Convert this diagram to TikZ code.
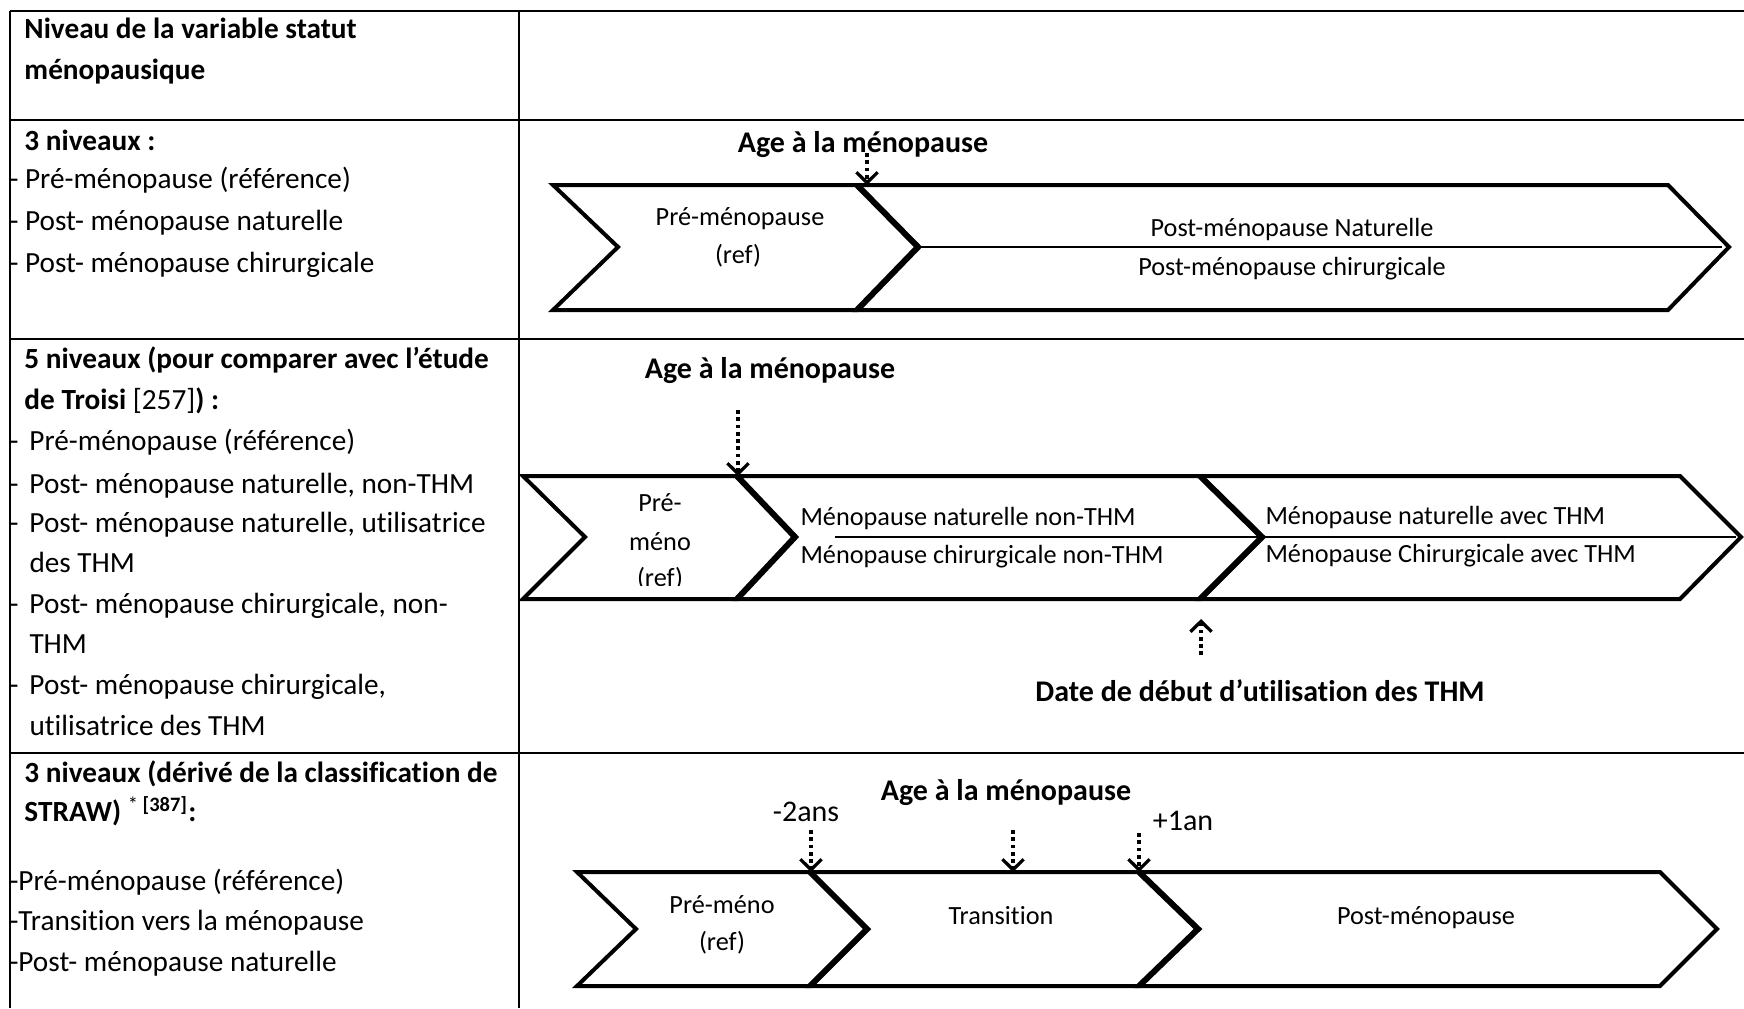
\documentclass[tikz,border=0pt]{standalone}
\usepackage{fontspec}
\setmainfont{Carlito}[Ligatures=NoCommon]
\usetikzlibrary{arrows.meta}

\begin{document}
\begin{tikzpicture}[x=0.4pt,y=-0.4pt,
  rule/.style={line width=0.7pt},
  txt/.style={anchor=mid west,inner sep=0pt,yshift=-1.2pt,font=\fontsize{11.7}{14}\selectfont},
  txtb/.style={txt,font=\fontsize{11.7}{14}\selectfont\bfseries},
  lbl/.style={anchor=mid,inner sep=0pt,yshift=-1pt,font=\fontsize{10.5}{12}\selectfont},
  lbll/.style={lbl,anchor=mid west},
  hdr/.style={anchor=mid,inner sep=0pt,yshift=-1.4pt,font=\fontsize{12}{14}\selectfont\bfseries},
  note/.style={anchor=mid,inner sep=0pt,yshift=-1.4pt,font=\fontsize{12}{14}\selectfont},
  chev/.style={draw,fill=white,line width=1.6pt,line join=miter},
  seam/.style={line width=2.4pt,line join=miter},
  midline/.style={line width=0.6pt},
  dotarrow/.style={line width=1.5pt,dash pattern=on 1.5pt off 1.4pt,
    -{Straight Barb[length=4.2pt,width=8.5pt,line width=1.3pt]}}]
  \useasboundingbox (0,0) rectangle (1744,1008);
  \begin{scope}
    % table
    \draw[rule] (10,11) -- (1744,11);
    \draw[rule] (10,120) -- (1744,120);
    \draw[rule] (10,339) -- (1744,339);
    \draw[rule] (10,753) -- (1744,753);
    \draw[rule] (10,11) -- (10,1008);
    \draw[rule] (519,11) -- (519,1008);

    \node[txtb] (r1a) at (24,30) {Niveau de la variable statut};
    \node[txtb] (r1b) at (24,71) {ménopausique};

    \node[txtb] (r2a) at (24,142) {3 niveaux :};
    \node[txt] (r2b) at (9,180) {- Pré-ménopause (référence)};
    \node[txt] (r2c) at (9,222) {- Post- ménopause naturelle};
    \node[txt] (r2d) at (9,264) {- Post- ménopause chirurgicale};

    \node[txtb] (r3a) at (24,360) {5 niveaux (pour comparer avec l’étude};
    \node[txtb] (r3b) at (24,401) {de Troisi \textmd{[257]}) :};
    \node[txt] (r3c) at (9,442) {-\hspace{4.4pt}Pré-ménopause (référence)};
    \node[txt] (r3d) at (9,485) {-\hspace{4.4pt}Post- ménopause naturelle, non-THM};
    \node[txt] (r3e) at (9,524) {-\hspace{4.4pt}Post- ménopause naturelle, utilisatrice};
    \node[txt] (r3f) at (29,564) {des THM};
    \node[txt] (r3g) at (9,605) {-\hspace{4.4pt}Post- ménopause chirurgicale, non-};
    \node[txt] (r3h) at (29,645) {THM};
    \node[txt] (r3i) at (9,686) {-\hspace{4.4pt}Post- ménopause chirurgicale,};
    \node[txt] (r3j) at (29,727) {utilisatrice des THM};

    \node[txtb] (r4a) at (24,774) {3 niveaux (dérivé de la classification de};
    \node[txtb] (r4b) at (24,813) {STRAW) \textsuperscript{\textmd{*} [387]}:};
    \node[txt] (r4c) at (9,882) {-Pré-ménopause (référence)};
    \node[txt] (r4d) at (9,922) {-Transition vers la ménopause};
    \node[txt] (r4e) at (9,963) {-Post- ménopause naturelle};

    % 3 niveaux
    \draw[chev] (553,185) -- (857,185) -- (918,247) -- (857,310) -- (553,310) -- (618,247) -- cycle;
    \draw[chev] (857,185) -- (1668,185) -- (1729,247) -- (1668,310) -- (857,310) -- (918,247) -- cycle;
    \draw[seam] (857,185) -- (918,247) -- (857,310);
    \draw[midline] (918,247) -- (1722,247);
    \coordinate (j2) at (857,185);
    \coordinate (a2) at (867,153);
    \node[hdr] (h2) at (863,143) {Age à la ménopause};
    \node[lbl] (p2a) at (740,217) {Pré-ménopause};
    \node[lbl] (p2b) at (738,255) {(ref)};
    \node[lbl] (q2a) at (1292,228) {Post-ménopause Naturelle};
    \node[lbl] (q2b) at (1292,267) {Post-ménopause chirurgicale};
    \draw[dotarrow] (a2) -- (a2 |- j2);

    % 5 niveaux
    \draw[chev] (523,476) -- (737,476) -- (795,537) -- (737,599) -- (523,599) -- (585,537) -- cycle;
    \draw[chev] (737,476) -- (1200,476) -- (1262,537) -- (1200,599) -- (737,599) -- (795,537) -- cycle;
    \draw[chev] (1200,476) -- (1680,476) -- (1741,537) -- (1680,599) -- (1200,599) -- (1262,537) -- cycle;
    \draw[seam] (737,476) -- (795,537) -- (737,599);
    \draw[seam] (1200,476) -- (1262,537) -- (1200,599);
    \draw[midline] (835,537) -- (1262,537);
    \draw[midline] (1262,537) -- (1736,537);
    \coordinate (j3a) at (737,476);
    \coordinate (j3b) at (1201,599);
    \coordinate (a3a) at (738,410);
    \coordinate (a3b) at (1201,655);
    \node[hdr] (h3) at (770,369) {Age à la ménopause};
    \begin{scope}
      \clip (523,476) rectangle (737,585);
      \node[lbl] (p3a) at (660,503) {Pré-};
      \node[lbl] (p3b) at (660,542) {méno};
      \node[lbl] (p3c) at (660,578) {(ref)};
    \end{scope}
    \node[lbll] (q3a) at (800,517) {Ménopause naturelle non-THM};
    \node[lbll] (q3b) at (800,555) {Ménopause chirurgicale non-THM};
    \node[lbll] (s3a) at (1265,516) {Ménopause naturelle avec THM};
    \node[lbll] (s3b) at (1265,554) {Ménopause Chirurgicale avec THM};
    \node[hdr] (d3) at (1260,692) {Date de début d’utilisation des THM};
    \draw[dotarrow] (a3a) -- (a3a |- j3a);
    \draw[dotarrow] (a3b) -- ([yshift=-8]j3b);

    % STRAW
    \draw[chev] (577,872) -- (810,872) -- (867,929) -- (810,986) -- (577,986) -- (636,929) -- cycle;
    \draw[chev] (810,872) -- (1139,872) -- (1198,929) -- (1139,986) -- (810,986) -- (867,929) -- cycle;
    \draw[chev] (1139,872) -- (1660,872) -- (1717,929) -- (1660,986) -- (1139,986) -- (1198,929) -- cycle;
    \draw[seam] (810,872) -- (867,929) -- (810,986);
    \draw[seam] (1139,872) -- (1198,929) -- (1139,986);
    \coordinate (j4a) at (811,872);
    \coordinate (j4b) at (1013,872);
    \coordinate (j4c) at (1139,872);
    \coordinate (a4a) at (811,830);
    \coordinate (a4b) at (1013,830);
    \coordinate (a4c) at (1139,833);
    \node[hdr] (h4) at (1006,791) {Age à la ménopause};
    \node[note] (m4) at (806,812) {-2ans};
    \node[note] (n4) at (1183,821) {+1an};
    \node[lbl] (p4a) at (722,905) {Pré-méno};
    \node[lbl] (p4b) at (722,942) {(ref)};
    \node[lbl] (t4) at (1001,916) {Transition};
    \node[lbl] (q4) at (1426,916) {Post-ménopause};
    \draw[dotarrow] (a4a) -- (j4a);
    \draw[dotarrow] (a4b) -- (j4b);
    \draw[dotarrow] (a4c) -- (j4c);
  \end{scope}
\end{tikzpicture}
\end{document}
